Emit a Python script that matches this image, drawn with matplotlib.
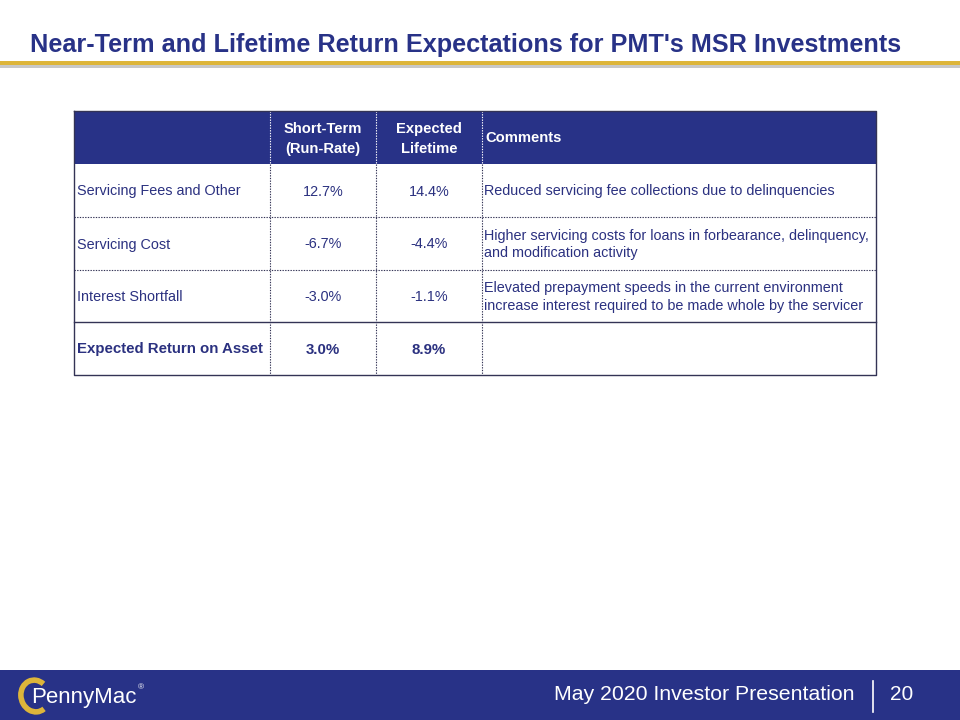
"""Recreate the PMT MSR return-expectations table slide."""

import matplotlib

matplotlib.use("Agg")
import matplotlib.pyplot as plt
from matplotlib.patches import Rectangle, Arc

NAVY = "#283287"
TEXT = "#2B3180"
GOLD = "#DDB53A"

TITLE = "Near-Term and Lifetime Return Expectations for PMT's MSR Investments"
HEADERS = ["", "Short-Term\n(Run-Rate)", "Expected\nLifetime", "Comments"]
ROW_LABELS = ["Servicing Fees and Other", "Servicing Cost", "Interest Shortfall",
              "Expected Return on Asset"]
SHORT_TERM = [12.7, -6.7, -3.0, 3.0]
LIFETIME = [14.4, -4.4, -1.1, 8.9]
COMMENTS = [
    "Reduced servicing fee collections due to delinquencies",
    "Higher servicing costs for loans in forbearance, delinquency,\nand modification activity",
    "Elevated prepayment speeds in the current environment\nincrease interest required to be made whole by the servicer",
    "",
]
FOOTER = "May 2020 Investor Presentation"
PAGE = "20"

COL_X = [74, 270, 376, 482, 876]
ROW_Y = [111, 164, 217, 270, 322, 375]

plt.rcParams["font.family"] = ["Liberation Sans", "DejaVu Sans"]

fig = plt.figure(figsize=(9.6, 7.2), dpi=100)
ax = fig.add_axes([0, 0, 1, 1])
ax.set_xlim(0, 960)
ax.set_ylim(720, 0)
ax.axis("off")

# title and gold rule
ax.text(30, 45, TITLE, fontsize=18.2, fontweight="bold", color=NAVY,
        va="center", ha="left")
ax.add_patch(Rectangle((0, 65), 960, 3, color="#C8C8C8", lw=0))
ax.add_patch(Rectangle((0, 61), 960, 4, color=GOLD, lw=0))

# header band
ax.add_patch(Rectangle((COL_X[0], ROW_Y[0]), COL_X[-1] - COL_X[0], ROW_Y[1] - ROW_Y[0],
                       color=NAVY, lw=0))
hy = (ROW_Y[0] + ROW_Y[1]) / 2 + 1.5
for c, head in enumerate(HEADERS):
    if not head:
        continue
    if c == 3:
        ax.text(COL_X[c] + 3, hy - 1.5, head, color="white",
                fontsize=10.6, fontweight="bold", va="center", ha="left")
    else:
        ax.text((COL_X[c] + COL_X[c + 1]) / 2, hy, head,
                color="white", fontsize=10.6, fontweight="bold", va="center",
                ha="center", linespacing=1.5)

# body rows
for r, label in enumerate(ROW_LABELS):
    y0, y1 = ROW_Y[r + 1], ROW_Y[r + 2]
    ym = (y0 + y1) / 2 + 1
    last = r == len(ROW_LABELS) - 1
    bold = "bold" if last else "normal"
    size = 10.8 if last else 10.4
    ax.text(COL_X[0] + 3, ym, label, color=TEXT, fontsize=size, fontweight=bold,
            va="center", ha="left")
    ax.text((COL_X[1] + COL_X[2]) / 2, ym, f"{SHORT_TERM[r]:.1f}%", color=TEXT,
            fontsize=size, fontweight=bold, va="center", ha="center")
    ax.text((COL_X[2] + COL_X[3]) / 2, ym, f"{LIFETIME[r]:.1f}%", color=TEXT,
            fontsize=size, fontweight=bold, va="center", ha="center")
    if COMMENTS[r]:
        ax.text(COL_X[3] + 2, ym, COMMENTS[r], color=TEXT, fontsize=10.4,
                va="center", ha="left", linespacing=1.35)

# grid lines
dots = (0, (1.2, 1.2))
for x in COL_X[1:-1]:
    ax.plot([x, x], [ROW_Y[0], ROW_Y[1]], color="white", lw=0.8, ls=dots)
    ax.plot([x, x], [ROW_Y[1], ROW_Y[-1]], color="#333355", lw=0.8, ls=dots)
for y in ROW_Y[2:4]:
    ax.plot([COL_X[0], COL_X[-1]], [y, y], color="#333355", lw=0.8, ls=dots)
ax.plot([COL_X[0], COL_X[-1]], [ROW_Y[4], ROW_Y[4]], color="#333355", lw=1.0)
ax.plot([COL_X[0], COL_X[-1], COL_X[-1], COL_X[0], COL_X[0]],
        [ROW_Y[0], ROW_Y[0], ROW_Y[-1], ROW_Y[-1], ROW_Y[0]], color="#333355", lw=1.0)

# footer band
ax.add_patch(Rectangle((0, 670), 960, 50, color=NAVY, lw=0))
ax.text(855, 694, FOOTER, color="white", fontsize=15.3, va="center", ha="right")
ax.plot([873, 873], [681, 712], color="white", lw=1.2)
ax.text(890, 694, PAGE, color="white", fontsize=15, va="center", ha="left")

# logo
ax.add_patch(Arc((35, 696), 28, 32, angle=-15, theta1=70, theta2=320,
                 color=GOLD, lw=4))
ax.text(31, 697, "PennyMac", color="white", fontsize=16,
        va="center", ha="left")
ax.text(138, 688, "\u00ae", color="white", fontsize=6, va="center", ha="left")

fig.savefig("out.png", dpi=100)
